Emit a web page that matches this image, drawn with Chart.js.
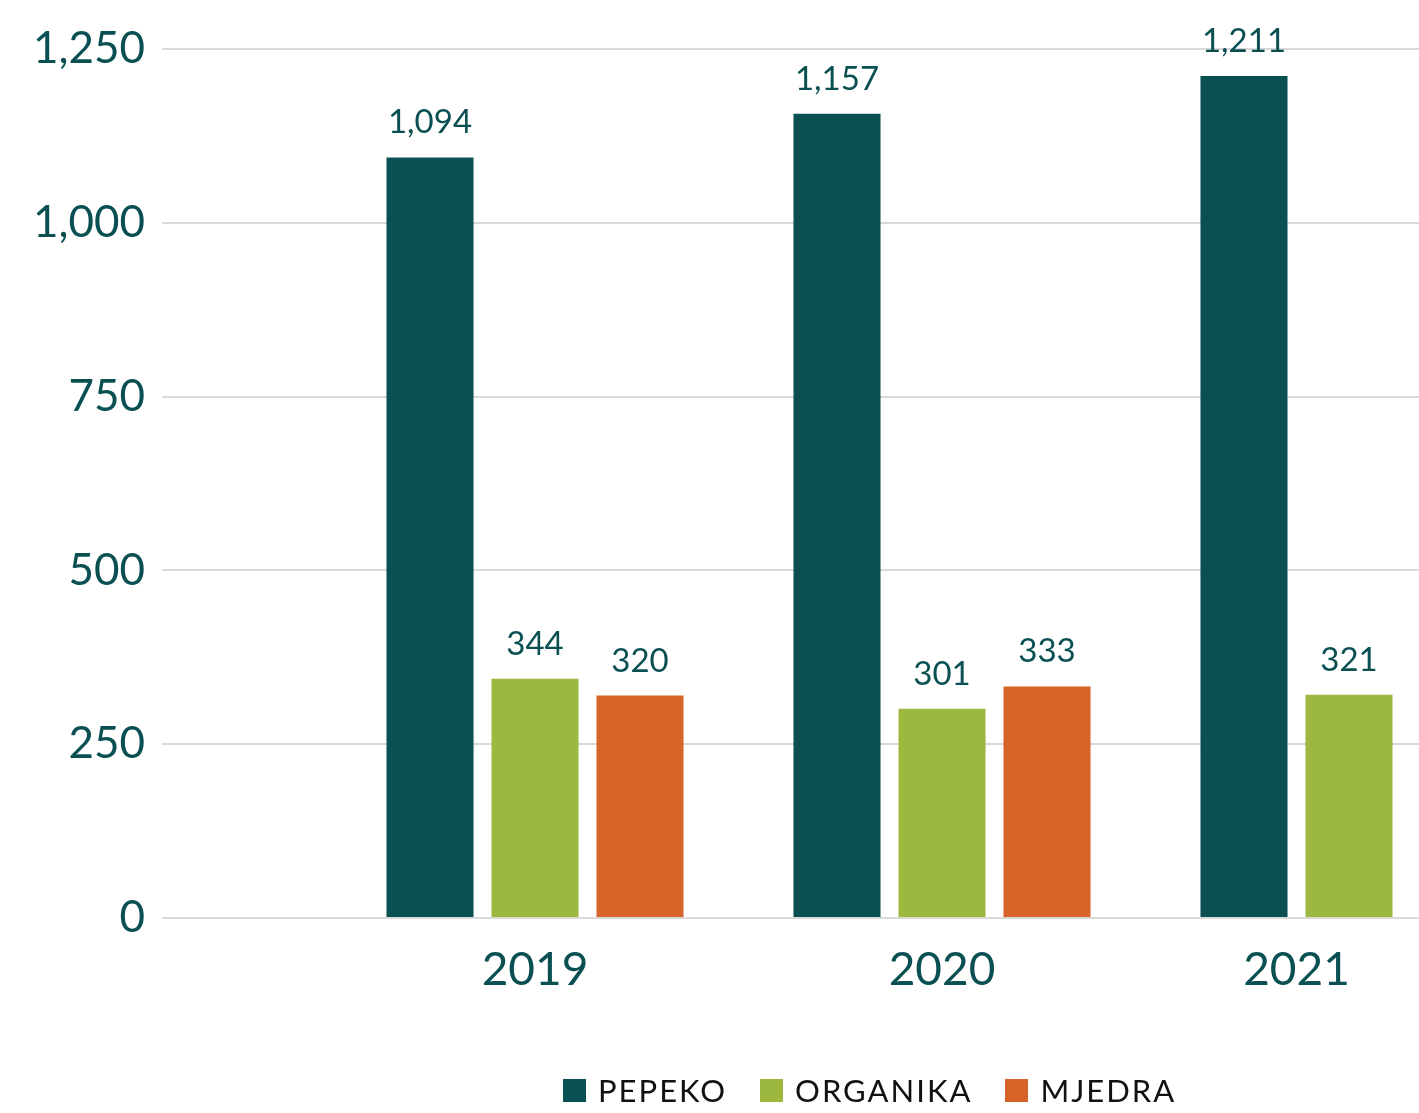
<!DOCTYPE html>
<html>
<head>
<meta charset="utf-8">
<script src="https://cdn.jsdelivr.net/npm/chart.js@4/dist/chart.umd.min.js"></script>
<style>
    html, body {
        margin: 0;
        padding: 0;
        background: #ffffff;
    }
    #wrap {
        position: relative;
        width: 1419px;
        height: 1113px;
    }
    #legend {
        position: absolute;
        left: 563px;
        top: 1071px;
        display: flex;
        align-items: center;
        font-family: Lato, sans-serif;
        font-size: 31px;
        letter-spacing: 2px;
        color: #111111;
    }
    .legend-item {
        display: flex;
        align-items: center;
        margin-right: 33px;
    }
    .legend-box {
        width: 23px;
        height: 23px;
        margin-right: 12px;
    }
</style>
</head>
<body>
<div id="wrap">
    <canvas id="chart" width="1419" height="1113"></canvas>
    <div id="legend"></div>
</div>
<script>
// Chart data
const years = [2019, 2020, 2021];
const pepeko = [1094, 1157, 1211];
const organika = [344, 301, 321];
const mjedra = [320, 333, null];
const yTicks = [0, 250, 500, 750, 1000, 1250];

const TEAL = '#0a5052';
const GREEN = '#9db83e';
const ORANGE = '#d66428';
const CATEGORY_PCT = 0.774;

function formatNumber(v) {
    return new Intl.NumberFormat('en-US').format(v);
}

function toPoints(values) {
    return values.map((v, i) => ({ x: years[i], y: v }));
}

// Year label sits over the middle of the bars that actually exist in that year
function yearLabelValue(i) {
    const series = [pepeko, organika, mjedra];
    const n = series.length;
    const offsets = [];
    series.forEach((s, k) => {
        if (s[i] !== null && s[i] !== undefined) {
            offsets.push((k - (n - 1) / 2) * CATEGORY_PCT / n);
        }
    });
    const mean = offsets.reduce((a, b) => a + b, 0) / offsets.length;
    return years[i] + mean;
}

// Value labels above each bar + year labels under the groups
const barLabels = {
    id: 'barLabels',
    afterDatasetsDraw(chart) {
        const ctx = chart.ctx;
        ctx.save();
        ctx.font = '33px Lato, sans-serif';
        ctx.fillStyle = TEAL;
        ctx.textAlign = 'center';
        ctx.textBaseline = 'alphabetic';
        chart.data.datasets.forEach((ds, i) => {
            const meta = chart.getDatasetMeta(i);
            meta.data.forEach((bar, j) => {
                const v = ds.data[j].y;
                if (v === null || v === undefined) return;
                ctx.fillText(formatNumber(v), bar.x, bar.y - 24);
            });
        });

        const xScale = chart.scales.x;
        ctx.font = '46px Lato, sans-serif';
        ctx.textBaseline = 'middle';
        years.forEach((y, i) => {
            ctx.fillText(String(y), xScale.getPixelForValue(yearLabelValue(i)), chart.chartArea.bottom + 52);
        });
        ctx.restore();
    }
};

function buildLegend(chart) {
    const legend = document.getElementById('legend');
    legend.innerHTML = '';
    chart.data.datasets.forEach(ds => {
        const item = document.createElement('div');
        item.className = 'legend-item';
        item.innerHTML = `<span class="legend-box" style="background:${ds.backgroundColor}"></span><span>${ds.label}</span>`;
        legend.appendChild(item);
    });
}

const ctx = document.getElementById('chart').getContext('2d');
const chart = new Chart(ctx, {
    type: 'bar',
    data: {
        datasets: [
            { label: 'PEPEKO', data: toPoints(pepeko), backgroundColor: TEAL },
            { label: 'ORGANIKA', data: toPoints(organika), backgroundColor: GREEN },
            { label: 'MJEDRA', data: toPoints(mjedra), backgroundColor: ORANGE }
        ]
    },
    options: {
        responsive: false,
        animation: false,
        categoryPercentage: CATEGORY_PCT,
        barPercentage: 0.829,
        layout: {
            padding: { top: 49, right: 0, bottom: 95, left: 0 }
        },
        plugins: {
            legend: { display: false },
            tooltip: { enabled: false }
        },
        scales: {
            x: {
                type: 'linear',
                offset: false,
                min: 2018.0835,
                max: 2021.172,
                grid: { display: false },
                border: { display: false },
                afterBuildTicks: scale => {
                    scale.ticks = years.map(y => ({ value: y }));
                },
                afterFit: scale => {
                    scale.height = 100;
                },
                ticks: { display: false }
            },
            y: {
                min: 0,
                max: 1250,
                afterBuildTicks: scale => {
                    scale.ticks = yTicks.map(v => ({ value: v }));
                },
                afterFit: scale => {
                    scale.width = 162;
                },
                grid: {
                    color: '#d9d9d9',
                    lineWidth: 2,
                    drawTicks: false
                },
                border: { display: false },
                ticks: {
                    padding: 17,
                    color: TEAL,
                    font: { family: 'Lato, sans-serif', size: 44 },
                    callback: v => formatNumber(v)
                }
            }
        }
    },
    plugins: [barLabels]
});

buildLegend(chart);
</script>
</body>
</html>
